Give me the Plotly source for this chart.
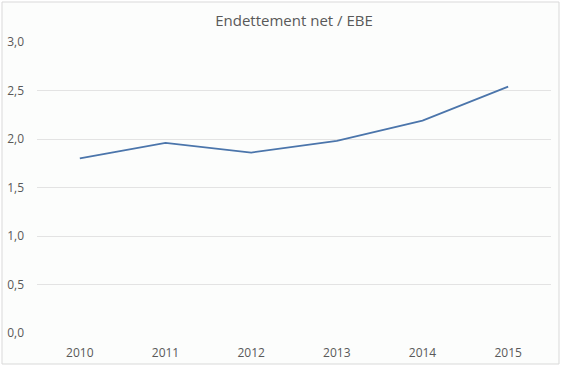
import plotly.graph_objects as go

years = ["2010", "2011", "2012", "2013", "2014", "2015"]
ratio = [1.80, 1.96, 1.86, 1.98, 2.19, 2.54]
y_ticks = [0, 0.5, 1.0, 1.5, 2.0, 2.5, 3.0]
y_tick_labels = ["0,0", "0,5", "1,0", "1,5", "2,0", "2,5", "3,0"]
title_text = "Endettement net / EBE"

W, H = 562, 367
ml, mr, mt, mb = 37, 11, 42, 34
pw, ph = W - ml - mr, H - mt - mb

fig = go.Figure()
fig.add_trace(go.Scatter(
    x=years, y=ratio, mode="lines",
    line=dict(color="#4b75ab", width=1.8),
    hoverinfo="skip", showlegend=False,
))

# outer chart box (pixel box 2..559 x 2..364), filled with the chart tint
fig.add_shape(type="rect", xref="paper", yref="paper",
              x0=(2 - ml) / pw, x1=(559 - ml) / pw,
              y0=(H - mb - 364) / ph, y1=(H - mb - 2) / ph,
              line=dict(color="#d9d9d9", width=1), fillcolor="#fcfdfc", layer="below")

font_family = "Open Sans, Noto Sans, sans-serif"
fig.update_layout(
    width=W, height=H,
    margin=dict(l=ml, r=mr, t=mt, b=mb, autoexpand=False),
    paper_bgcolor="#ffffff",
    plot_bgcolor="rgba(0,0,0,0)",
    title=dict(text=title_text, x=0.5, xref="paper", y=1 - 21 / H, yanchor="middle",
               font=dict(family=font_family, size=15, color="#595959")),
    xaxis=dict(type="category", range=[-0.5, 5.5], showgrid=False, zeroline=False,
               showline=False, ticks="", ticklabelstandoff=11, automargin=False,
               tickfont=dict(family=font_family, size=12, color="#595959")),
    yaxis=dict(range=[0, 3], tickvals=y_ticks, ticktext=y_tick_labels,
               showgrid=True, gridcolor="#e3e3e3", gridwidth=1, zeroline=False,
               showline=False, ticks="", ticklabelstandoff=12, automargin=False,
               tickfont=dict(family=font_family, size=12, color="#595959")),
)

fig.write_html("out.html", config={"displayModeBar": False},
               post_script="document.body.style.margin='0';document.body.style.overflow='hidden';")
